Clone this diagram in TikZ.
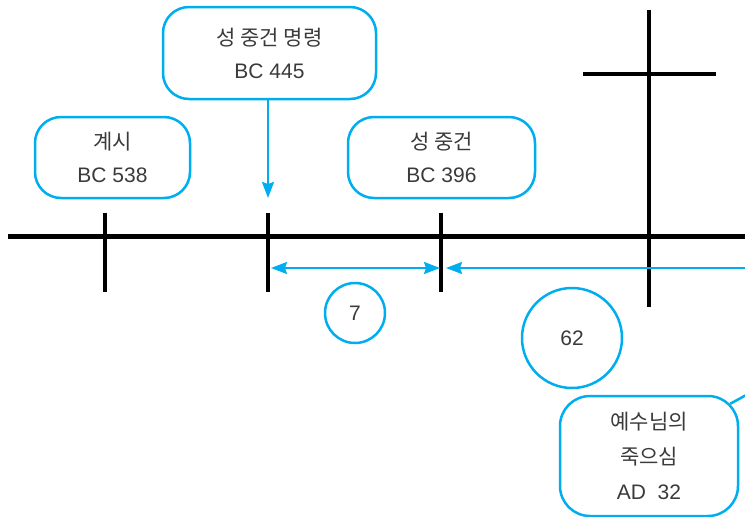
\documentclass[tikz,border=0pt]{standalone}
\usepackage{fontspec}
\setmainfont{Liberation Sans}
\newfontfamily\kr{Noto Sans CJK KR}
\usetikzlibrary{arrows.meta}
\definecolor{cy}{HTML}{00AEEF}
\definecolor{tx}{HTML}{3A3A3A}
\tikzset{
  box/.style={draw=cy, line width=2.5pt, rounded corners=26pt, align=center, text=tx,
    font=\fontsize{21}{33}\selectfont, inner sep=0pt},
  ring/.style={draw=cy, line width=2.5pt, circle, text=tx, font=\fontsize{21}{24}\selectfont, inner sep=0pt},
  axis/.style={line width=5pt, black},
  tick/.style={line width=3.2pt, black},
  crossline/.style={line width=4pt, black},
  blue/.style={draw=cy, line width=2pt},
  tip/.style={-{Stealth[length=16pt,width=12pt,inset=2pt]}},
}
\begin{document}
\begin{tikzpicture}[x=1pt,y=-1pt]
\useasboundingbox (0,0) rectangle (745,517);
% timeline
\coordinate (L) at (8,236);
\coordinate (R) at (745,236);
\draw[axis] (L) -- (R);
\coordinate (t1a) at (105,213); \coordinate (t1b) at (105,292);
\coordinate (t2a) at (268,213); \coordinate (t2b) at (268,292);
\coordinate (t3a) at (441,213); \coordinate (t3b) at (441,292);
\draw[tick] (t1a) -- (t1b);
\draw[tick] (t2a) -- (t2b);
\draw[tick] (t3a) -- (t3b);
% cross
\coordinate (cA) at (649,10); \coordinate (cB) at (649,307);
\coordinate (cC) at (583,74); \coordinate (cD) at (716,74);
\draw[crossline] (cA) -- (cB);
\draw[crossline] (cC) -- (cD);
% boxes
\node[box, minimum width=155pt, minimum height=81pt] (rev) at (112.5,157.5) {{\kr 계시}\\BC 538};
\node[box, minimum width=213pt, minimum height=92pt] (cmd) at (269.5,53) {{\kr 성 중건 명령}\\BC 445};
\node[box, minimum width=187pt, minimum height=81pt] (bld) at (441.5,157.5) {{\kr 성 중건}\\BC 396};
\node[box, rounded corners=30pt, minimum width=178pt, minimum height=120pt, font=\fontsize{21}{35}\selectfont] (jes) at (649,456) {{\kr 예수님의}\\{\kr 죽으심}\\AD~~32};
% circles
\node[ring, minimum size=60pt] (c7) at (355,313) {7};
\node[ring, minimum size=100pt] (c62) at (572,338) {62};
% arrows
\coordinate (dT) at (268,198);
\draw[blue, tip] (cmd.south -| dT) -- (dT);
\coordinate (a1) at (271,268); \coordinate (a2) at (440,268);
\draw[blue, {Stealth[length=16pt,width=12pt,inset=2pt]}-{Stealth[length=16pt,width=12pt,inset=2pt]}] (a1) -- (a2);
\coordinate (b1) at (446,268); \coordinate (b2) at (745,268);
\draw[blue, tip] (b2) -- (b1);
\coordinate (out) at (748,394);
\draw[blue, line width=2.5pt] ([shift={(-9pt,-9pt)}]jes.north east) -- (out);
\end{tikzpicture}
\end{document}
